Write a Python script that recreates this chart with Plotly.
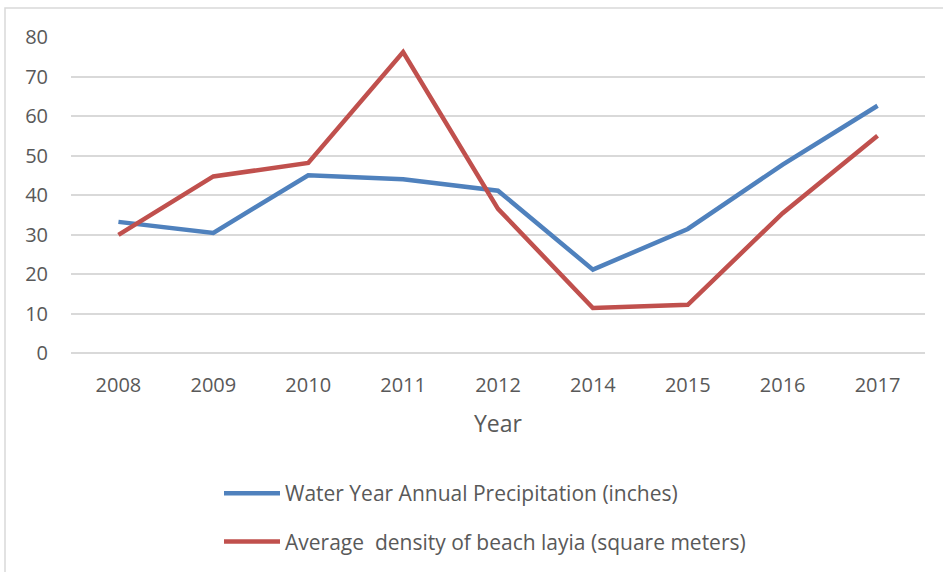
import plotly.graph_objects as go

years = ["2008", "2009", "2010", "2011", "2012", "2014", "2015", "2016", "2017"]
precip = [33.2, 30.4, 45.0, 44.0, 41.1, 21.1, 31.4, 47.7, 62.6]
density = [29.9, 44.7, 48.1, 76.2, 36.5, 11.4, 12.2, 35.4, 55.0]
y_ticks = [0, 10, 20, 30, 40, 50, 60, 70, 80]

FONT = "'Open Sans', Lato, sans-serif"
GRAY = "#595959"
GRID = "#d9d9d9"

fig = go.Figure()
fig.add_trace(go.Scatter(
    x=years, y=precip, mode="lines",
    name="Water Year Annual Precipitation (inches)",
    line=dict(color="#4f81bd", width=4.5), legendgroup="a"))
fig.add_trace(go.Scatter(
    x=years, y=density, mode="lines",
    name="Average  density of beach layia (square meters)",
    line=dict(color="#c0504d", width=4.5), legendgroup="b"))

W, H = 943, 572
L, R, T, B = 71, 18, 37, 219
pw, ph = W - L - R, H - T - B

fig.update_layout(
    width=W, height=H,
    margin=dict(l=L, r=R, t=T, b=B, autoexpand=False),
    paper_bgcolor="white", plot_bgcolor="white",
    font=dict(family=FONT, color=GRAY, size=20),
    xaxis=dict(type="category", range=[-0.5, len(years) - 0.5],
               showgrid=False, showline=False, zeroline=False,
               ticks="", tickfont=dict(size=20, color=GRAY), ticklabelstandoff=18,
               title=dict(text="Year", font=dict(size=23, color=GRAY), standoff=18)),
    yaxis=dict(range=[0, 80], tickvals=y_ticks, showgrid=True, gridcolor=GRID,
               gridwidth=1.5, zeroline=True, zerolinecolor=GRID, zerolinewidth=1.5,
               showline=False, ticks="", tickfont=dict(size=20, color=GRAY),
               ticklabelstandoff=22),
    showlegend=True,
    legend=dict(orientation="v", x=(219 - L) / pw, xanchor="left",
                y=-(473 - (T + ph)) / ph, yanchor="top",
                font=dict(size=21, color=GRAY, family=FONT),
                traceorder="grouped", tracegroupgap=18, itemwidth=56,
                bgcolor="rgba(0,0,0,0)"),
    shapes=[dict(type="rect", xref="paper", yref="paper",
                 x0=(5 - L) / pw, x1=(W + 5 - L) / pw,
                 y0=-(H + 5 - T - ph) / ph, y1=(T + ph - 8) / ph,
                 line=dict(color=GRID, width=1.5), layer="below")],
)

fig.write_html("out.html", config={"displayModeBar": False},
               post_script="document.body.style.margin='0';")
